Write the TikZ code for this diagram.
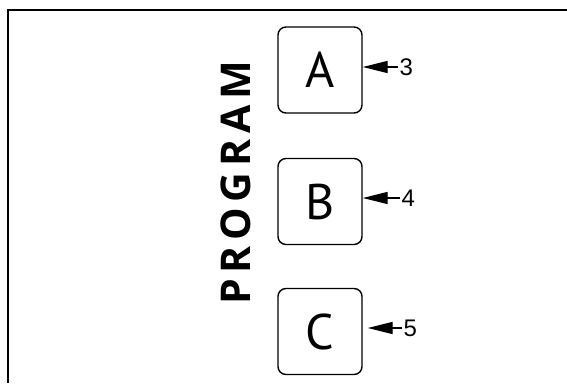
\documentclass[tikz,border=0pt]{standalone}
\usepackage{fontspec}
\usepackage{tikz}
\usetikzlibrary{positioning, arrows.meta}
\newfontfamily\boxfont{PT Sans}
\newfontfamily\progfont[LetterSpace=14]{Open Sans}
\newfontfamily\numfont{Liberation Sans}

\begin{document}
\begin{tikzpicture}[
    x=1pt, y=-1pt,
    >=Latex,
    framebox/.style={
        draw,
        line width=1.4pt,
        rounded corners=8pt,
        minimum width=84pt,
        minimum height=86pt,
        inner sep=0pt,
        font=\boxfont\fontsize{50}{50}\selectfont
    },
    numlabel/.style={
        anchor=west,
        inner sep=1.5pt,
        font=\numfont\fontsize{24}{24}\selectfont
    },
    pointer/.style={
        -{Triangle[length=25pt, width=12pt]},
        line width=1.3pt
    }
]
\useasboundingbox (0,0) rectangle (567,383);

% open frame, top and left sides only
\coordinate (topright) at (567,10);
\coordinate (corner) at (8,10);
\coordinate (bottomleft) at (8,383);
\draw[line width=2.5pt] (topright) -- (corner) -- (bottomleft);

% the three program boxes
\node[framebox] (A) at (320,70) {A};
\node[framebox] (B) at (320,201.5) {B};
\node[framebox] (C) at (320,331.5) {C};

% vertical title
\node[rotate=90, font=\progfont\bfseries\fontsize{41}{41}\selectfont] (prog) at (236,183) {PROGRAM};

% reference numerals
\node[numlabel] (n3) at (398,67) {3};
\node[numlabel] (n4) at (400,198) {4};
\node[numlabel] (n5) at (402,328) {5};

\draw[pointer] (n3.west) -- (n3.west -| A.east);
\draw[pointer] (n4.west) -- (n4.west -| B.east);
\draw[pointer] (n5.west) -- ([xshift=5pt]n5.west -| C.east);

\end{tikzpicture}
\end{document}
